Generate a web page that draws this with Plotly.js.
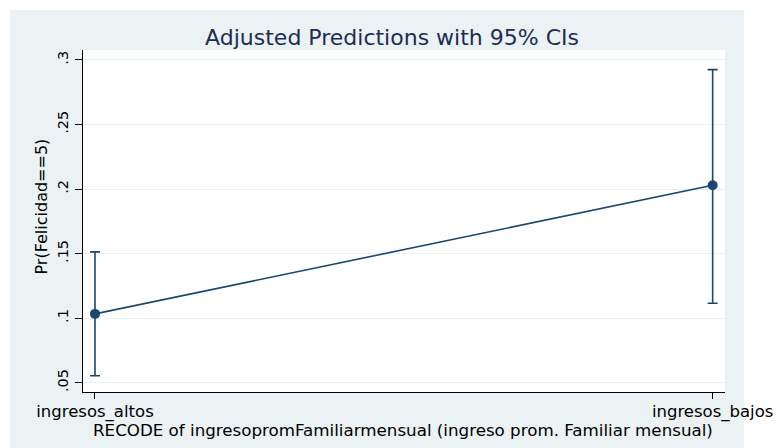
<!DOCTYPE html>
<html>
<head>
<meta charset="utf-8">
<script src="https://cdn.plot.ly/plotly-3.0.1.min.js"></script>
<style>
  html, body { margin: 0; padding: 0; background: #ffffff; width: 776px; height: 448px; overflow: hidden; }
  #bg { position: absolute; left: 10px; top: 10px; width: 734px; height: 438px; background: #eaf2f3; }
  #chart { position: absolute; left: 0; top: 0; width: 776px; height: 448px; }
</style>
</head>
<body>
<div id="bg"></div>
<div id="chart"></div>
<script>
// Data
var categories = ["ingresos_altos", "ingresos_bajos"];
var predictions = [0.1033, 0.2029];
var ciUpper = [0.1513, 0.2925];
var ciLower = [0.0554, 0.1116];
var yTickVals = [0.05, 0.10, 0.15, 0.20, 0.25, 0.30];
var yTickText = [".05", ".1", ".15", ".2", ".25", ".3"];
var titleText = "Adjusted Predictions with 95% CIs";
var xTitleText = "RECODE of ingresopromFamiliarmensual (ingreso prom. Familiar mensual)";
var yTitleText = "Pr(Felicidad==5)";

var navy = "#1a476f";
var font = "DejaVu Sans, Liberation Sans, Arial, sans-serif";

var trace = {
  x: categories,
  y: predictions,
  type: "scatter",
  mode: "lines+markers",
  line: { color: navy, width: 1.6 },
  marker: { color: navy, size: 10 },
  error_y: {
    type: "data",
    symmetric: false,
    array: predictions.map(function (p, i) { return ciUpper[i] - p; }),
    arrayminus: predictions.map(function (p, i) { return p - ciLower[i]; }),
    color: navy,
    thickness: 1.6,
    width: 5
  },
  hoverinfo: "x+y",
  showlegend: false
};

var layout = {
  width: 776,
  height: 448,
  margin: { l: 83, r: 51, t: 50, b: 56, pad: 0 },
  paper_bgcolor: "rgba(0,0,0,0)",
  plot_bgcolor: "#ffffff",
  font: { family: font, color: "#000000" },
  title: {
    text: titleText,
    font: { family: font, size: 22, color: "#1e2d53" },
    xref: "container", x: 0.5052, xanchor: "center",
    yref: "container", y: 0.9174, yanchor: "middle"
  },
  xaxis: {
    type: "category",
    range: [-0.0194, 1.02],
    showline: true, linecolor: "#000000", linewidth: 1,
    showgrid: false, zeroline: false,
    ticks: "outside", ticklen: 6, tickcolor: "#000000", tickwidth: 1,
    ticklabelstandoff: -2,
    tickfont: { family: font, size: 16.5, color: "#000000" },
    automargin: false,
    fixedrange: true
  },
  yaxis: {
    range: [0.0428, 0.3077],
    tickvals: yTickVals,
    ticktext: yTickText,
    tickangle: -90,
    showline: true, linecolor: "#000000", linewidth: 1,
    showgrid: true, gridcolor: "#eaf2f3", gridwidth: 1,
    zeroline: false,
    ticks: "outside", ticklen: 7, tickcolor: "#000000", tickwidth: 1,
    ticklabelstandoff: 1,
    tickfont: { family: font, size: 14.5, color: "#000000" },
    automargin: false,
    fixedrange: true
  },
  annotations: [{
    text: yTitleText,
    xref: "paper", yref: "paper",
    x: -0.0654, y: 0.5424,
    xanchor: "center", yanchor: "middle",
    textangle: -90,
    showarrow: false,
    font: { family: font, size: 16, color: "#000000" }
  }, {
    text: xTitleText,
    xref: "paper", yref: "paper",
    x: 0.4977, y: -0.1111,
    xanchor: "center", yanchor: "middle",
    showarrow: false,
    font: { family: font, size: 16.7, color: "#000000" }
  }],
  hovermode: "closest"
};

Plotly.newPlot("chart", [trace], layout, { displayModeBar: false });
</script>
</body>
</html>
